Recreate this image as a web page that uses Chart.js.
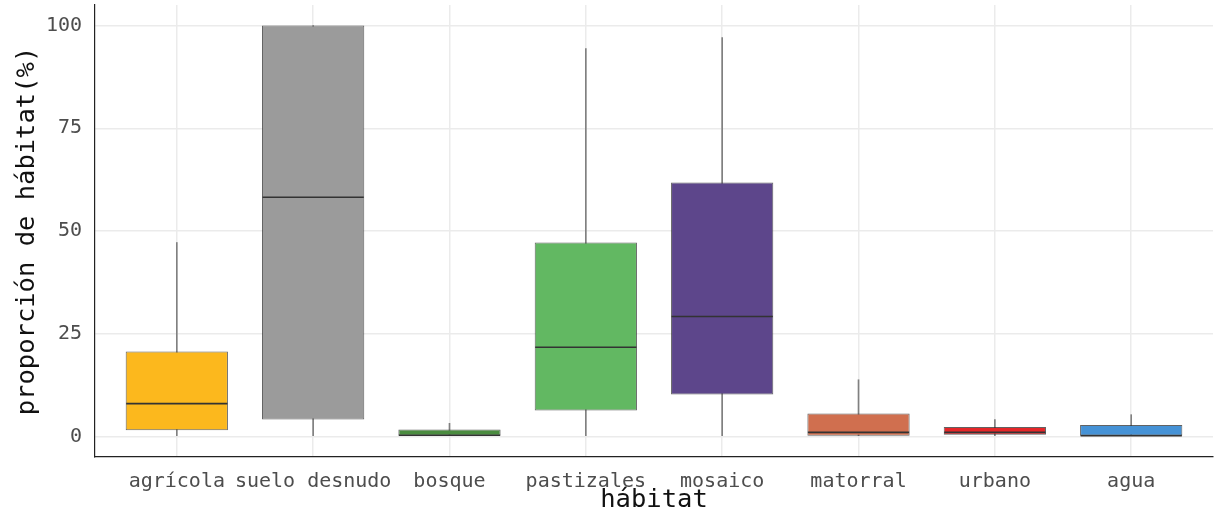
<!DOCTYPE html>
<html>
<head>
<meta charset="utf-8">
<script src="https://cdn.jsdelivr.net/npm/chart.js@4.4.1/dist/chart.umd.min.js"></script>
<style>
  html, body { margin: 0; padding: 0; background: #ffffff; }
  #wrap { width: 1222px; height: 514px; }
</style>
</head>
<body>
<div id="wrap"><canvas id="c" width="1222" height="514"></canvas></div>
<script>
// ---- data ----
const categories = ['agrícola', 'suelo desnudo', 'bosque', 'pastizales', 'mosaico', 'matorral', 'urbano', 'agua'];
const whiskerLow  = [0,    0,    0,    0,    0,    0,    0,    0];
const q1          = [1.5,  4.1,  0,    6.3,  10.2, 0,    0.4,  0];
const median      = [8.0,  58.2, 0.3,  21.7, 29.2, 1.0,  1.0,  0.2];
const q3          = [20.7, 100,  1.7,  47.2, 61.8, 5.6,  2.3,  2.8];
const whiskerHigh = [47.2, 100,  3.2,  94.4, 97.1, 13.8, 4.1,  5.3];
const boxColors   = ['#FCB81D', '#9B9B9B', '#4A8C3F', '#62B862', '#5D468B', '#D06F4F', '#E52629', '#4592D6'];
const yTicks      = [0, 25, 50, 75, 100];

const MONO = "'DejaVu Sans Mono', 'Liberation Mono', monospace";

const medianPlugin = {
  id: 'medianLines',
  afterDatasetsDraw(chart) {
    const meta = chart.getDatasetMeta(0);
    const y = chart.scales.y;
    const ctx = chart.ctx;
    ctx.save();
    ctx.strokeStyle = '#333333';
    ctx.lineWidth = 1.6;
    meta.data.forEach((bar, i) => {
      const py = y.getPixelForValue(median[i]);
      ctx.beginPath();
      ctx.moveTo(bar.x - bar.width / 2 + 0.5, py);
      ctx.lineTo(bar.x + bar.width / 2 - 0.5, py);
      ctx.stroke();
    });
    ctx.restore();
  }
};

new Chart(document.getElementById('c'), {
  type: 'bar',
  data: {
    datasets: [
      {
        label: 'caja',
        data: categories.map((c, i) => ({ x: i, y: [q1[i], q3[i]] })),
        backgroundColor: boxColors,
        borderColor: 'rgba(45,45,45,0.75)',
        borderWidth: 1,
        borderSkipped: false,
        barPercentage: 0.75,
        categoryPercentage: 1,
        grouped: false,
        order: 0
      },
      {
        label: 'bigote',
        data: categories.map((c, i) => ({ x: i, y: [whiskerLow[i], whiskerHigh[i]] })),
        backgroundColor: '#808080',
        barThickness: 1,
        grouped: false,
        order: 1
      }
    ]
  },
  options: {
    responsive: false,
    devicePixelRatio: 1,
    animation: false,
    layout: { padding: { top: 5, right: 9, left: 0, bottom: 0 } },
    plugins: { legend: { display: false }, tooltip: { enabled: false } },
    scales: {
      x: {
        type: 'linear',
        offset: false,
        min: -0.6,
        max: 7.6,
        afterBuildTicks: s => { s.ticks = categories.map((c, i) => ({ value: i })); },
        afterFit: s => { s.height = 57; s.paddingLeft = 0; s.paddingRight = 0; },
        ticks: {
          autoSkip: false,
          maxRotation: 0,
          padding: 13,
          color: '#4d4d4d',
          font: { family: MONO, size: 20 },
          callback: v => categories[Math.round(v)]
        },
        grid: { color: '#ebebeb', lineWidth: 1.5, drawTicks: false, offset: false },
        border: { display: true, color: '#222222', width: 1.2 },
        title: {
          display: true,
          text: 'hábitat',
          color: '#111111',
          font: { family: MONO, size: 25.5, lineHeight: 1.1 },
          padding: { top: 0, bottom: 0 }
        }
      },
      y: {
        min: -5,
        max: 105,
        afterBuildTicks: s => { s.ticks = yTicks.map(v => ({ value: v })); },
        afterFit: s => { s.width = 95; s.paddingTop = 0; s.paddingBottom = 0; },
        ticks: {
          padding: 13,
          color: '#4d4d4d',
          font: { family: MONO, size: 20 }
        },
        grid: { color: '#ebebeb', lineWidth: 1.5, drawTicks: false },
        border: { display: true, color: '#222222', width: 1.2 },
        title: {
          display: true,
          text: 'proporción de hábitat(%)',
          color: '#111111',
          font: { family: MONO, size: 25.5, lineHeight: 1.2 },
          padding: { top: 12.5, bottom: 0 }
        }
      }
    }
  },
  plugins: [medianPlugin]
});
</script>
</body>
</html>
